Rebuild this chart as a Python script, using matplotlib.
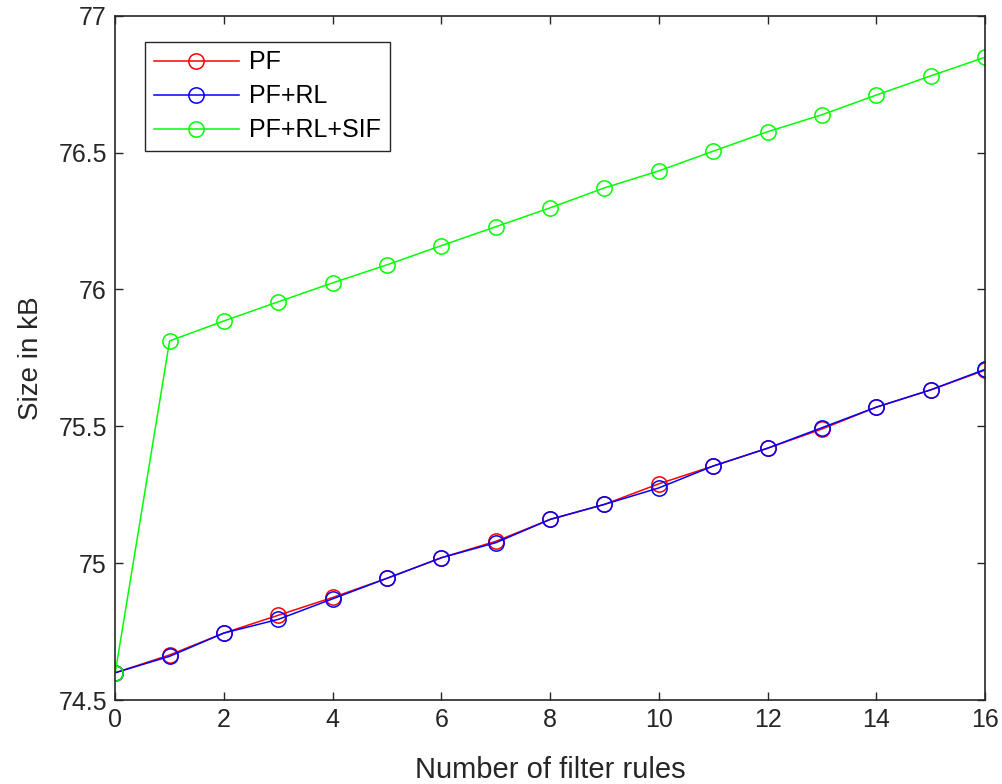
import numpy as np
import matplotlib.pyplot as plt

plt.rcParams['font.family'] = ['Liberation Sans', 'DejaVu Sans']

rules = list(range(17))
pf = [74.60, 74.665, 74.745, 74.81, 74.875, 74.945, 75.02, 75.08, 75.16,
      75.215, 75.29, 75.355, 75.42, 75.49, 75.57, 75.633, 75.705]
pf_rl = [74.60, 74.66, 74.745, 74.795, 74.87, 74.945, 75.02, 75.075, 75.16,
         75.215, 75.275, 75.355, 75.42, 75.495, 75.57, 75.633, 75.708]
pf_rl_sif = [74.60, 75.812, 75.885, 75.955, 76.024, 76.09, 76.16, 76.229, 76.298,
             76.371, 76.433, 76.505, 76.576, 76.638, 76.71, 76.78, 76.848]

dark = '#262626'

fig = plt.figure(figsize=(10.02, 7.84), dpi=100)
ax = fig.add_axes([0.115, 0.107, 0.868, 0.873])

ax.plot(rules, pf, color='#ff0000', marker='o', mfc='none', ms=11, mew=1.1, lw=1.1, label='PF')
ax.plot(rules, pf_rl, color='#0000ff', marker='o', mfc='none', ms=11, mew=1.1, lw=1.1, label='PF+RL')
ax.plot(rules, pf_rl_sif, color='#00ff00', marker='o', mfc='none', ms=11, mew=1.1, lw=1.1, label='PF+RL+SIF')

ax.set_xlim(0, 16)
ax.set_ylim(74.5, 77)
ax.set_xticks(range(0, 17, 2))
ax.set_yticks([74.5, 75, 75.5, 76, 76.5, 77])
ax.set_yticklabels(['74.5', '75', '75.5', '76', '76.5', '77'])

ax.tick_params(direction='in', top=True, right=True, length=6, width=1,
               colors=dark, labelsize=18, pad=6)
for s in ax.spines.values():
    s.set_color(dark)
    s.set_linewidth(1.2)

ax.set_xlabel('Number of filter rules', fontsize=21, color=dark, labelpad=17)
ax.set_ylabel('Size in kB', fontsize=20, color=dark, labelpad=10)

leg = ax.legend(loc='upper left', bbox_to_anchor=(0.0345, 0.962), fontsize=18,
                fancybox=False, framealpha=1, edgecolor=dark, handlelength=3.4,
                borderpad=0.35, labelspacing=0.4, handletextpad=0.4,
                borderaxespad=0)
leg.get_frame().set_linewidth(1.0)

fig.savefig('out.png', dpi=100)
